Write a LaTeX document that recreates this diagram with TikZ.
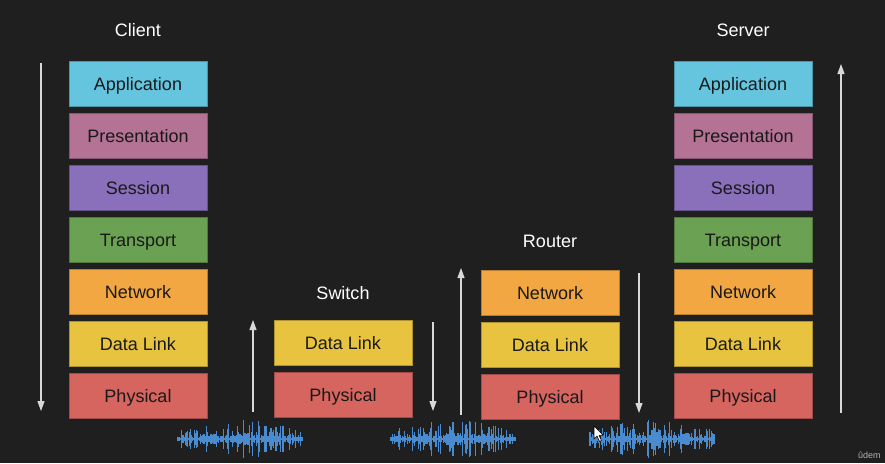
\documentclass[tikz,border=0pt]{standalone}
\usepackage{fontspec}
\setmainfont{Liberation Sans}
\usetikzlibrary{arrows.meta}
\definecolor{bg}{HTML}{1F1F1F}
\definecolor{capp}{HTML}{66C5DE}
\definecolor{cpre}{HTML}{B47295}
\definecolor{cses}{HTML}{8A6FBB}
\definecolor{ctra}{HTML}{6AA153}
\definecolor{cnet}{HTML}{F2A742}
\definecolor{cdat}{HTML}{E8C33F}
\definecolor{cphy}{HTML}{D6645F}
\definecolor{cwave}{HTML}{4A8BD0}
\definecolor{carrow}{HTML}{D8D8D8}
\tikzset{
  layer/.style={draw=#1!75!black, line width=0.8pt, fill=#1, minimum width=138pt, minimum height=45pt,
    inner sep=0pt, text height=13pt, text depth=0pt, font=\fontsize{18}{20}\selectfont, text=black!90},
  title/.style={font=\fontsize{18}{20}\selectfont, text=white, text height=13pt, text depth=0pt, inner sep=0pt},
  flow/.style={draw=carrow, line width=1.1pt, -{Triangle[length=10pt,width=7pt]}},
  wave/.style={draw=cwave, line width=1.1pt},
}
\begin{document}
\begin{tikzpicture}[x=1pt,y=-1pt]
\fill[bg] (0,0) rectangle (885,463);
\useasboundingbox (0,0) rectangle (885,463);
% Client
\node[title] (tclient) at (138,30) {Client};
\node[layer=capp] (c1) at (138,83.5) {Application};
\node[layer=cpre] (c2) at (138,135.5) {Presentation};
\node[layer=cses] (c3) at (138,187.5) {Session};
\node[layer=ctra] (c4) at (138,239.5) {Transport};
\node[layer=cnet] (c5) at (138,291.5) {Network};
\node[layer=cdat] (c6) at (138,343.5) {Data Link};
\node[layer=cphy] (c7) at (138,395.5) {Physical};
% Server
\node[title] (tserver) at (743,30) {Server};
\node[layer=capp] (s1) at (743,83.5) {Application};
\node[layer=cpre] (s2) at (743,135.5) {Presentation};
\node[layer=cses] (s3) at (743,187.5) {Session};
\node[layer=ctra] (s4) at (743,239.5) {Transport};
\node[layer=cnet] (s5) at (743,291.5) {Network};
\node[layer=cdat] (s6) at (743,343.5) {Data Link};
\node[layer=cphy] (s7) at (743,395.5) {Physical};
% Switch
\node[title] (tswitch) at (343,293) {Switch};
\node[layer=cdat] (w1) at (343,342.5) {Data Link};
\node[layer=cphy] (w2) at (343,394.5) {Physical};
% Router
\node[title] (trouter) at (550,241) {Router};
\node[layer=cnet] (r1) at (550,292.5) {Network};
\node[layer=cdat] (r2) at (550,344.5) {Data Link};
\node[layer=cphy] (r3) at (550,396.5) {Physical};
% arrows
\coordinate (a1s) at (41,63); \coordinate (a1e) at (41,411);
\coordinate (a2s) at (253,412); \coordinate (a2e) at (253,320);
\coordinate (a3s) at (433,322); \coordinate (a3e) at (433,411);
\coordinate (a4s) at (461,415); \coordinate (a4e) at (461,268);
\coordinate (a5s) at (639,273); \coordinate (a5e) at (639,413);
\coordinate (a6s) at (841,413); \coordinate (a6e) at (841,64);
\draw[flow] (a1s) -- (a1e);
\draw[flow] (a2s) -- (a2e);
\draw[flow] (a3s) -- (a3e);
\draw[flow] (a4s) -- (a4e);
\draw[flow] (a5s) -- (a5e);
\draw[flow] (a6s) -- (a6e);
% waveforms
\pgfmathsetseed{42}
\foreach \cx in {240,453,652}{
  \draw[wave, line width=2pt] (\cx-62,439) -- (\cx+62,439);
  \foreach \i in {0,...,100}{
    \pgfmathsetmacro{\xx}{\cx-62+\i*1.24}
    \pgfmathsetmacro{\rr}{random()}
    \pgfmathsetmacro{\env}{0.45+0.55*sin(1.8*\i)}
    \pgfmathsetmacro{\h}{(3+16*\rr*\rr)*\env}
    \draw[wave] (\xx,439-\h) -- (\xx,439+\h);
  }
}
% cursor
\filldraw[fill=white, draw=black, line width=0.6pt, line join=round]
  (594,426) -- ++(0,13) -- ++(3,-3) -- ++(2.5,5.5) -- ++(2,-1) -- ++(-2.5,-5.2) -- ++(4.2,0) -- cycle;
% watermark
\node[anchor=west, text=white!70!black, font=\fontsize{9}{10}\selectfont, inner sep=0pt] (wm) at (858,455) {ûdem};
\end{tikzpicture}
\end{document}
